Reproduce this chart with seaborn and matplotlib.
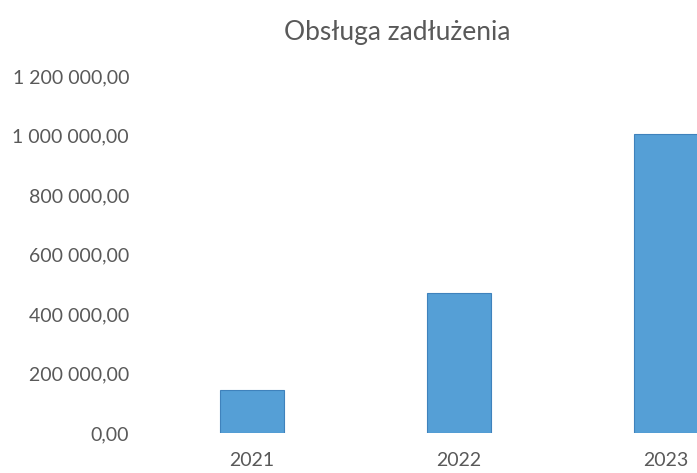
import matplotlib
matplotlib.use("Agg")
import matplotlib.pyplot as plt
from matplotlib.ticker import FuncFormatter
import pandas as pd
import seaborn as sns

# chart data
years = ["2021", "2022", "2023"]
debt_service = [146000, 470000, 1005000]
y_ticks = [0, 200000, 400000, 600000, 800000, 1000000, 1200000]
title = "Obsługa zadłużenia"


def pl_format(value, _pos):
    """Polish number style: space thousands, comma decimals."""
    s = f"{value:,.2f}"
    return s.replace(",", " ").replace(".", ",")


df = pd.DataFrame({"year": years, "value": debt_service})

sns.set_theme(style="white")
plt.rcParams["font.family"] = ["Lato", "DejaVu Sans"]

fig = plt.figure(figsize=(6.97, 4.73), dpi=100)
# the scan is cropped on the right, so the axes runs past the figure edge
ax = fig.add_axes([0.213, 0.0846, 0.891, 0.7548])

sns.barplot(
    data=df, x="year", y="value", ax=ax,
    color="#559FD6", edgecolor="#3F82BC", linewidth=0.8,
    width=0.31, saturation=1,
)

ax.set_ylim(0, 1200000)
ax.set_yticks(y_ticks)
ax.yaxis.set_major_formatter(FuncFormatter(pl_format))
ax.set_xlim(-0.5, 2.5)
ax.set_xlabel("")
ax.set_ylabel("")
ax.tick_params(axis="y", length=0, pad=14, labelsize=14, labelcolor="#595959")
ax.tick_params(axis="x", length=0, pad=14, labelsize=14, labelcolor="#595959")
sns.despine(ax=ax, left=True, bottom=True)

fig.text(0.57, 0.932, title, ha="center", va="center",
         fontsize=19, color="#595959")

fig.savefig("out.png", dpi=100, facecolor="white")
